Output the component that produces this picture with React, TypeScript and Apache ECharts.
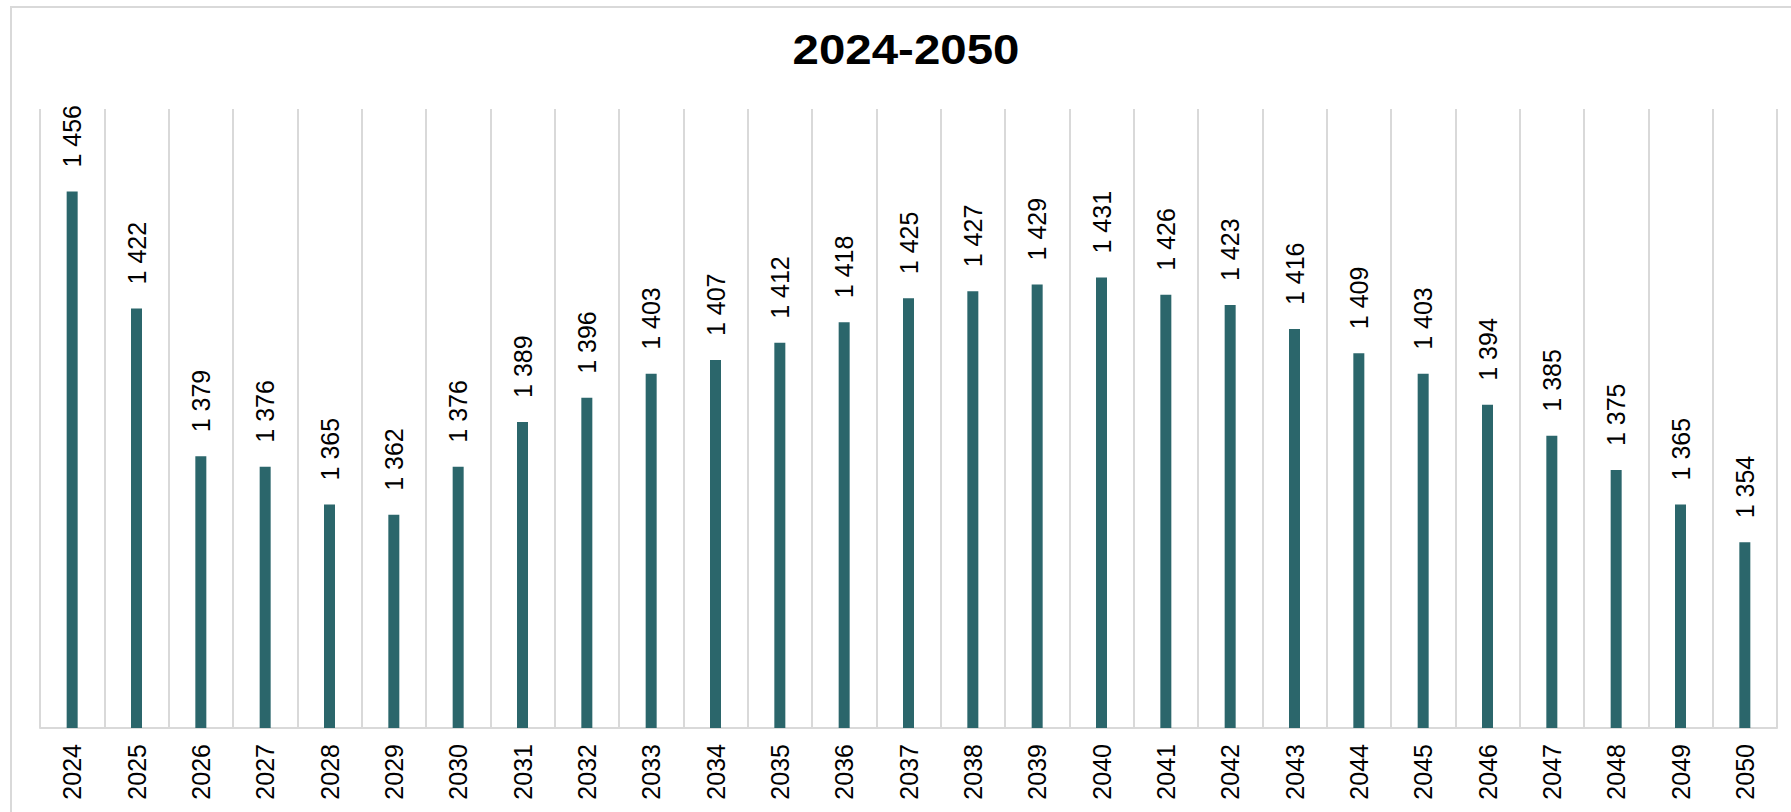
import React, { useEffect, useRef } from "react";
import * as echarts from "echarts";

const years: string[] = [
  "2024", "2025", "2026", "2027", "2028", "2029", "2030", "2031", "2032",
  "2033", "2034", "2035", "2036", "2037", "2038", "2039", "2040", "2041",
  "2042", "2043", "2044", "2045", "2046", "2047", "2048", "2049", "2050",
];

const values: number[] = [
  1456, 1422, 1379, 1376, 1365, 1362, 1376, 1389, 1396,
  1403, 1407, 1412, 1418, 1425, 1427, 1429, 1431, 1426,
  1423, 1416, 1409, 1403, 1394, 1385, 1375, 1365, 1354,
];

const titleText = "2024-2050";
const yMin = 1300;
const yMax = 1480;

const FONT = "Liberation Sans, Arial, sans-serif";

const fmt = (v: number) => {
  const s = String(Math.round(v));
  return s.replace(/\B(?=(\d{3})+(?!\d))/g, " ");
};

export default function App() {
  const ref = useRef<HTMLDivElement>(null);
  useEffect(() => {
    document.body.style.margin = "0";
    const chart = echarts.init(ref.current!, null, { renderer: "svg" });
    chart.setOption({
      animation: false,
      backgroundColor: "#ffffff",
      graphic: [
        {
          type: "rect",
          shape: { x: 11, y: 7, width: 1900, height: 900 },
          style: { fill: "none", stroke: "#d9d9d9", lineWidth: 2 },
          silent: true,
          z: -10,
        },
        {
          type: "text",
          x: 906,
          y: 28,
          scaleX: 1.13,
          silent: true,
          style: {
            text: titleText,
            fontFamily: FONT,
            fontWeight: "bold",
            fontSize: 42,
            fill: "#000000",
            align: "center",
            textAlign: "center",
            verticalAlign: "top",
            textVerticalAlign: "top",
          },
        },
      ],
      grid: { left: 40, right: 14, top: 109, bottom: 84, containLabel: false },
      xAxis: {
        type: "category",
        data: years,
        boundaryGap: true,
        axisLine: { show: true, lineStyle: { color: "#d9d9d9", width: 2 } },
        axisTick: { show: false },
        splitLine: { show: true, lineStyle: { color: "#d9d9d9", width: 2 } },
        axisLabel: {
          rotate: 90,
          margin: 16,
          interval: 0,
          fontFamily: FONT,
          fontSize: 25,
          color: "#000000",
        },
      },
      yAxis: {
        type: "value",
        min: yMin,
        max: yMax,
        show: false,
        splitLine: { show: false },
      },
      series: [
        {
          type: "bar",
          data: values,
          barWidth: 11,
          itemStyle: { color: "#2b666b" },
          label: {
            show: true,
            position: "top",
            rotate: 90,
            align: "left",
            verticalAlign: "middle",
            distance: 24,
            fontFamily: FONT,
            fontSize: 25,
            color: "#000000",
            formatter: (p: any) => fmt(p.value),
          },
        },
      ],
    });
    return () => chart.dispose();
  }, []);
  return <div ref={ref} style={{ width: 1791, height: 812 }} />;
}
